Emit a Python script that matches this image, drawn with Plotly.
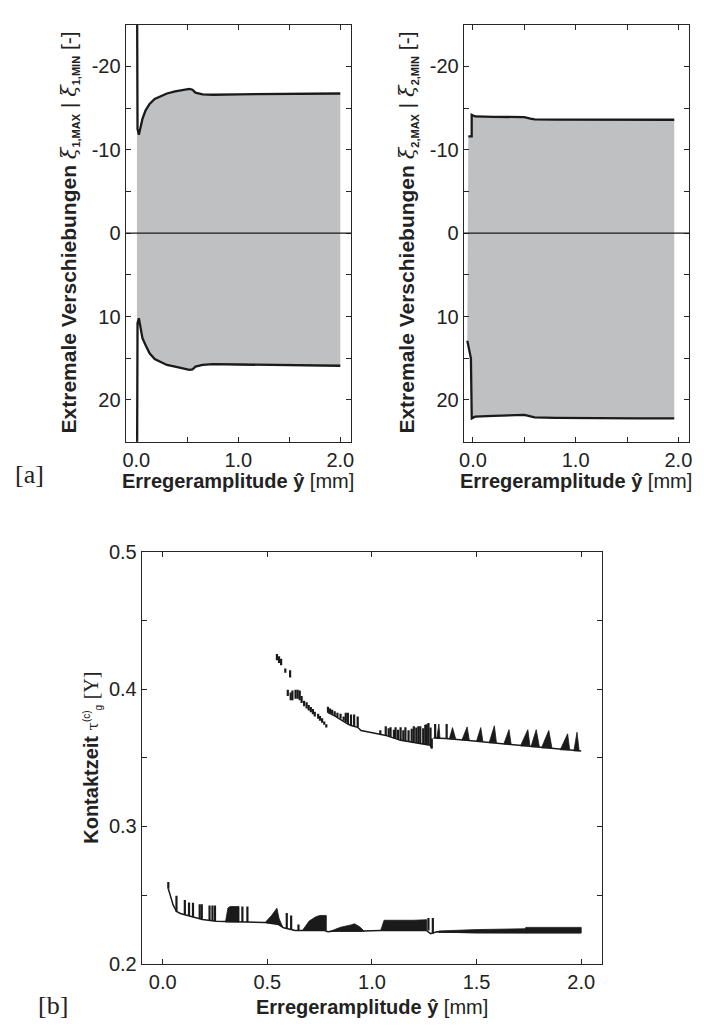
import plotly.graph_objects as go

# ---------------- panel [a] left: extreme displacements of mass 1 ----------------
amp1 = [0.004, 0.006, 0.012, 0.025, 0.04, 0.06, 0.09, 0.13, 0.18, 0.23, 0.30,
        0.38, 0.45, 0.52, 0.55, 0.58, 0.65, 0.75, 1.0, 1.5, 2.0]
xi1_max = [-40, -15, -12.5, -11.8, -12.6, -13.7, -14.7, -15.5, -16.1, -16.4, -16.75,
           -17.0, -17.15, -17.3, -17.2, -16.85, -16.65, -16.6, -16.65, -16.7, -16.75]
xi1_min = [40, 13, 10.8, 10.2, 11.3, 12.6, 13.4, 14.4, 15.1, 15.4, 15.8,
           16.0, 16.2, 16.4, 16.35, 16.0, 15.8, 15.7, 15.75, 15.85, 15.9]

# ---------------- panel [a] right: extreme displacements of mass 2 ----------------
amp2_max = [-0.045, -0.0125, -0.0125, 0.02, 0.2, 0.4, 0.5, 0.56, 0.6, 0.8, 1.2, 1.6, 1.96]
xi2_max = [-11.6, -11.6, -14.2, -14.0, -13.95, -13.9, -13.92, -13.75, -13.65, -13.62, -13.6, -13.6, -13.6]
amp2_min = [-0.055, -0.02, -0.012, 0.02, 0.2, 0.4, 0.5, 0.55, 0.6, 0.8, 1.2, 1.6, 1.96]
xi2_min = [12.9, 15.0, 22.2, 22.0, 21.9, 21.85, 21.8, 21.95, 22.1, 22.15, 22.2, 22.2, 22.2]

# ---------------- panel [b]: contact time ----------------
# lower branch, continuous part
low_amp = [0.027, 0.035, 0.050, 0.066, 0.085, 0.106, 0.145, 0.19, 0.255, 0.41, 0.49, 0.554,
           0.578, 0.633, 0.77, 0.79, 0.82, 0.96, 1.04, 1.26, 1.28, 1.31, 1.50, 2.00]
low_tau = [0.2546, 0.2510, 0.2428, 0.2380, 0.2365, 0.2356, 0.2338, 0.2322, 0.2309, 0.2302, 0.2300, 0.2285,
           0.2261, 0.2242, 0.2242, 0.2232, 0.2237, 0.2237, 0.2242, 0.2242, 0.2218, 0.2232, 0.2225, 0.2225]
# lower branch, single spread columns
low_bar_amp = [0.027, 0.066, 0.106, 0.126, 0.145, 0.177, 0.187, 0.224, 0.238, 0.250, 0.381, 0.405,
               0.593, 0.614, 0.649, 1.270, 1.291]
low_bar_lo = [0.2546, 0.2380, 0.2356, 0.2347, 0.2338, 0.2326, 0.2324, 0.2316, 0.2313, 0.2310, 0.2302, 0.2302,
              0.2255, 0.2245, 0.2242, 0.2242, 0.2218]
low_bar_hi = [0.2594, 0.2494, 0.2463, 0.2446, 0.2444, 0.2432, 0.2432, 0.2423, 0.2423, 0.2423, 0.2416, 0.2416,
              0.2368, 0.2351, 0.2285, 0.2332, 0.2332]
# lower branch, dense blocks (envelope top / bottom)
low_blk_amp = [[0.300, 0.312, 0.322, 0.365],
               [0.49, 0.52, 0.546, 0.556, 0.575],
               [0.668, 0.70, 0.73, 0.751, 0.782],
               [0.80, 0.85, 0.90, 0.916, 0.94, 0.963],
               [1.042, 1.058, 1.20, 1.262],
               [1.32, 1.50, 1.73, 1.735, 2.0]]
low_blk_top = [[0.2303, 0.2405, 0.2416, 0.2416],
               [0.2300, 0.2350, 0.2404, 0.2330, 0.2262],
               [0.2242, 0.2310, 0.2340, 0.2351, 0.2351],
               [0.2235, 0.2265, 0.2282, 0.2290, 0.2270, 0.2237],
               [0.2242, 0.2316, 0.2316, 0.2320],
               [0.2238, 0.2248, 0.2254, 0.2264, 0.2264]]
low_blk_bot = [[0.2303, 0.2303, 0.2303, 0.2303],
               [0.2300, 0.2296, 0.2290, 0.2285, 0.2262],
               [0.2242, 0.2242, 0.2242, 0.2242, 0.2242],
               [0.2235, 0.2235, 0.2235, 0.2235, 0.2235, 0.2237],
               [0.2242, 0.2242, 0.2242, 0.2242],
               [0.2228, 0.2225, 0.2225, 0.2225, 0.2225]]

# upper branch, scattered columns
up_bar_amp = [0.546, 0.556, 0.566, 0.586, 0.609, 0.598, 0.612, 0.620, 0.635, 0.645, 0.655, 0.664,
              0.676, 0.688, 0.698, 0.708, 0.718, 0.727, 0.743, 0.752, 0.762, 0.772, 0.782,
              0.790, 0.800, 0.810, 0.822, 0.835, 0.850, 0.865, 0.875, 0.885, 0.900, 0.915, 0.932,
              1.040, 1.066, 1.080, 1.089, 1.105, 1.113, 1.125, 1.137, 1.150, 1.160, 1.175, 1.190,
              1.200, 1.212, 1.222, 1.231, 1.245, 1.255, 1.262, 1.270, 1.280, 1.286, 1.302, 1.357]
up_bar_lo = [0.4210, 0.4190, 0.4174, 0.4120, 0.4085, 0.3950, 0.3920, 0.3920, 0.3930, 0.3930, 0.3920, 0.3900,
             0.3875, 0.3860, 0.3845, 0.3832, 0.3818, 0.3800, 0.3785, 0.3770, 0.3755, 0.3740, 0.3720,
             0.3829, 0.3825, 0.3815, 0.3805, 0.3795, 0.3785, 0.3770, 0.3760, 0.3746, 0.3735, 0.3728, 0.3722,
             0.3671, 0.3663, 0.3655, 0.3650, 0.3643, 0.3640, 0.3634, 0.3627, 0.3624, 0.3621, 0.3617, 0.3613,
             0.3610, 0.3608, 0.3606, 0.3604, 0.3600, 0.3598, 0.3597, 0.3595, 0.3592, 0.3568, 0.3644, 0.3640]
up_bar_hi = [0.4257, 0.4240, 0.4222, 0.4150, 0.4138, 0.3996, 0.3975, 0.3990, 0.3996, 0.3996, 0.3990, 0.3950,
             0.3915, 0.3905, 0.3885, 0.3870, 0.3855, 0.3835, 0.3820, 0.3805, 0.3788, 0.3765, 0.3745,
             0.3872, 0.3860, 0.3850, 0.3840, 0.3829, 0.3820, 0.3800, 0.3829, 0.3829, 0.3815, 0.3815, 0.3800,
             0.3700, 0.3729, 0.3715, 0.3722, 0.3705, 0.3722, 0.3705, 0.3722, 0.3700, 0.3722, 0.3700, 0.3712,
             0.3729, 0.3720, 0.3729, 0.3729, 0.3715, 0.3740, 0.3745, 0.3753, 0.3720, 0.3640, 0.3746, 0.3746]
# upper branch, continuous parts
upB_amp = [0.790, 0.822, 0.885, 0.900, 0.932, 0.948, 1.026, 1.066, 1.137, 1.200, 1.231, 1.278, 1.286]
upB_tau = [0.3829, 0.3805, 0.3746, 0.3735, 0.3722, 0.3699, 0.3675, 0.3663, 0.3627, 0.3610, 0.3604, 0.3592, 0.3568]
upC_amp = [1.294, 1.35, 1.451, 1.609, 1.766, 1.924, 2.0]
upC_tau = [0.3644, 0.3640, 0.3627, 0.3604, 0.3580, 0.3556, 0.3549]
# upper branch, saw teeth: foot left, peak, foot right, peak value, foot value
tooth_x0 = [1.31, 1.37, 1.43, 1.50, 1.56, 1.63, 1.71, 1.76, 1.81, 1.90, 1.965]
tooth_xp = [1.32, 1.385, 1.455, 1.52, 1.585, 1.655, 1.745, 1.785, 1.845, 1.935, 1.98]
tooth_x1 = [1.325, 1.40, 1.465, 1.53, 1.595, 1.665, 1.755, 1.80, 1.86, 1.945, 1.99]
tooth_top = [0.3746, 0.3720, 0.3725, 0.3720, 0.3733, 0.3705, 0.3705, 0.3705, 0.3699, 0.3675, 0.3686]
tooth_base = [0.3643, 0.3638, 0.3630, 0.3622, 0.3610, 0.3600, 0.3587, 0.3580, 0.3572, 0.3558, 0.3551]

# tick positions and labels
top_x_ticks = [0.0, 1.0, 2.0]
top_x_labels = ["0.0", "1.0", "2.0"]
top_x_minor = [0.5, 1.5]
top_y_ticks = [-20, -10, 0, 10, 20]
top_y_labels = ["-20", "-10", "0", "10", "20"]
top_y_minor = [-15, -5, 5, 15]
bot_x_ticks = [0.0, 0.5, 1.0, 1.5, 2.0]
bot_x_labels = ["0.0", "0.5", "1.0", "1.5", "2.0"]
bot_y_ticks = [0.2, 0.3, 0.4, 0.5]
bot_y_labels = ["0.2", "0.3", "0.4", "0.5"]
bot_y_minor = [0.25, 0.35, 0.45]

# ---------------- styling ----------------
INK = "#1a1a1a"
GREY = "#bfc0c2"
SANS = "Arial"
SERIF = "Liberation Serif"
W, H = 704, 1035


def px_dom(a, b, size):
    return [a / size, b / size]


def py_dom(top, bottom):
    return [1 - bottom / H, 1 - top / H]


fig = go.Figure()

# grey band between the extremes
fig.add_trace(go.Scatter(x=amp1[1:] + amp1[1:][::-1], y=xi1_max[1:] + xi1_min[1:][::-1],
                         fill="toself", fillcolor=GREY, line=dict(width=0), mode="lines",
                         xaxis="x", yaxis="y", hoverinfo="skip"))
fig.add_trace(go.Scatter(x=amp2_max + amp2_min[::-1], y=xi2_max + xi2_min[::-1],
                         fill="toself", fillcolor=GREY, line=dict(width=0), mode="lines",
                         xaxis="x2", yaxis="y2", hoverinfo="skip"))
# extreme curves
for xs, ys, xa, ya in [(amp1, xi1_max, "x", "y"), (amp1, xi1_min, "x", "y"),
                       (amp2_max, xi2_max, "x2", "y2"), (amp2_min, xi2_min, "x2", "y2")]:
    fig.add_trace(go.Scatter(x=xs, y=ys, mode="lines", line=dict(color=INK, width=2.3),
                             xaxis=xa, yaxis=ya))


# contact time: blocks, columns and base lines
def polys(amps, tops, bots):
    px, py = [], []
    for a, t, b in zip(amps, tops, bots):
        px += a + a[::-1] + [a[0], None]
        py += t + b[::-1] + [t[0], None]
    return px, py


bx, by = polys(low_blk_amp, low_blk_top, low_blk_bot)
tx, ty = [], []
for x0, xp, x1, t, b in zip(tooth_x0, tooth_xp, tooth_x1, tooth_top, tooth_base):
    tx += [x0, xp, x1, x0, None]
    ty += [b, t, b, b, None]
fig.add_trace(go.Scatter(x=bx + tx, y=by + ty, fill="toself", fillcolor=INK, mode="lines",
                         line=dict(color=INK, width=0.8), xaxis="x3", yaxis="y3"))


def columns(amps, lo, hi):
    cx, cy = [], []
    for a, l, h in zip(amps, lo, hi):
        cx += [a, a, None]
        cy += [l, h, None]
    return cx, cy


cx1, cy1 = columns(low_bar_amp, low_bar_lo, low_bar_hi)
cx2, cy2 = columns(up_bar_amp, up_bar_lo, up_bar_hi)
fig.add_trace(go.Scatter(x=cx1 + cx2, y=cy1 + cy2, mode="lines", line=dict(color=INK, width=2.2),
                         xaxis="x3", yaxis="y3"))
for xs, ys in [(low_amp, low_tau), (upB_amp, upB_tau), (upC_amp, upC_tau)]:
    fig.add_trace(go.Scatter(x=xs, y=ys, mode="lines", line=dict(color=INK, width=1.5),
                             xaxis="x3", yaxis="y3"))

axis_common = dict(showline=True, linecolor="#262626", linewidth=1, mirror="ticks",
                   ticks="inside", ticklen=5, tickwidth=1, tickcolor="#262626",
                   showgrid=False, zeroline=False,
                   tickfont=dict(family=SANS, size=20, color="#222"))


def minor(vals):
    return dict(tickvals=vals, ticks="inside", ticklen=5, tickwidth=1,
                tickcolor="#262626", showgrid=False)


top_x = dict(tickvals=top_x_ticks, ticktext=top_x_labels, minor=minor(top_x_minor))
top_y = dict(range=[25, -25], tickvals=top_y_ticks, ticktext=top_y_labels, minor=minor(top_y_minor))

fig.update_layout(
    width=W, height=H, margin=dict(l=0, r=0, t=0, b=0),
    paper_bgcolor="white", plot_bgcolor="white", showlegend=False,
    font=dict(family=SANS),
    xaxis=dict(domain=px_dom(122, 350, W), range=[-0.105, 2.105], anchor="y", **top_x, **axis_common),
    yaxis=dict(domain=py_dom(14, 440), anchor="x", **top_y, **axis_common),
    xaxis2=dict(domain=px_dom(464, 692, W), range=[-0.09, 2.105], anchor="y2", **top_x, **axis_common),
    yaxis2=dict(domain=py_dom(14, 440), anchor="x2", **top_y, **axis_common),
    xaxis3=dict(domain=px_dom(138.3, 604, W), range=[-0.1, 2.1], anchor="y3",
                tickvals=bot_x_ticks, ticktext=bot_x_labels, **axis_common),
    yaxis3=dict(domain=py_dom(552.7, 973.3), range=[0.2, 0.5], anchor="x3",
                tickvals=bot_y_ticks, ticktext=bot_y_labels, minor=minor(bot_y_minor),
                **axis_common),
)

# zero lines across the displacement panels
for xr, yr in [("x domain", "y"), ("x2 domain", "y2")]:
    fig.add_shape(type="line", xref=xr, yref=yr, x0=0, x1=1, y0=0, y1=0,
                  line=dict(color=INK, width=1.3), layer="above")

xi = "<span style='font-family:DejaVu Serif'><i>ξ</i></span>"


def ytitle(k):
    return ("<b>Extremale Verschiebungen</b> " + xi +
            f"<sub><span style='font-size:11px'><b>{k},MAX</b></span></sub> | " + xi +
            f"<sub><span style='font-size:11px'><b>{k},MIN</b></span></sub> [-]")


xtitle = "<b>Erregeramplitude ŷ</b> [mm]"
ttitle = ("<b>Kontaktzeit</b> <span style='font-family:DejaVu Serif;font-size:15px'>τ</span>"
          "<sup><span style='font-size:10px'>(c)</span></sup>"
          "<sub><span style='font-size:10px'>g</span></sub> "
          "<span style='font-family:Liberation Serif'>[Υ]</span>")

ann = [
    (65, 226, ytitle(1), -90, 21),
    (407, 226, ytitle(2), -90, 21),
    (88, 763, ttitle, -90, 20),
    (236, 480, xtitle, 0, 20),
    (578, 480, xtitle, 0, 20),
    (371, 1018, xtitle, 0, 20),
]
for x, y, t, ang, fs in ann:
    fig.add_annotation(x=x / W, y=1 - y / H, xref="paper", yref="paper", text=t,
                       textangle=ang, showarrow=False, xanchor="center", yanchor="middle",
                       font=dict(family=SANS, size=fs, color="#222"))

for x, y, t in [(25, 474, "[a]"), (49, 1016, "[b]")]:
    fig.add_annotation(x=x / W, y=1 - y / H, xref="paper", yref="paper", text=t,
                       showarrow=False, xanchor="center", yanchor="middle",
                       font=dict(family=SERIF, size=26, color="#222"))

fig.write_html("out.html")
